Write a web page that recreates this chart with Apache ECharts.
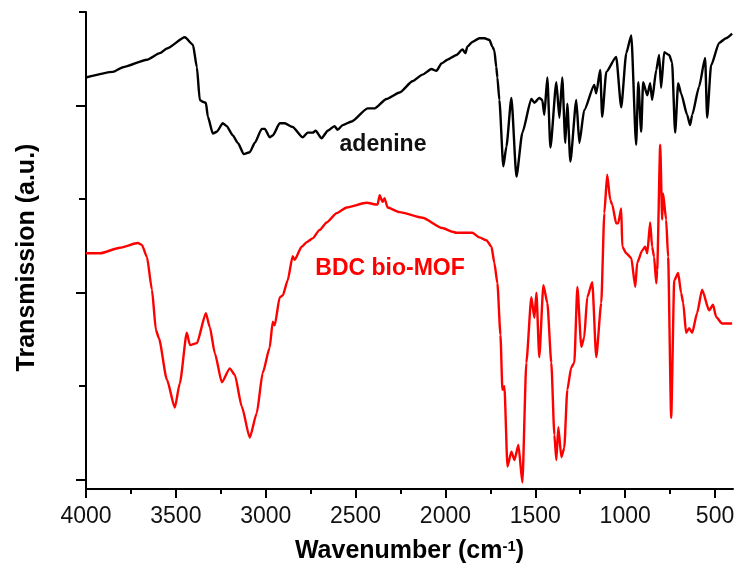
<!DOCTYPE html>
<html>
<head>
<meta charset="utf-8">
<script src="https://cdn.jsdelivr.net/npm/echarts@6/dist/echarts.min.js"></script>
<style>
  html, body { margin: 0; padding: 0; background: #fff; }
  #chart { width: 738px; height: 575px; }
</style>
</head>
<body>
<div id="chart"></div>
<script>
// axis ticks (y is arbitrary units, no labels)
const xMajorTicks = [4000, 3500, 3000, 2500, 2000, 1500, 1000, 500]
const xMinorTicks = [3750, 3250, 2750, 2250, 1750, 1250, 750]
const yMajorTicks = [10, 210, 410]
const yMinorTicks = [110, 310, 510]

// adenine spectrum
const adenineWn = [4000, 3850, 3794, 3661, 3589, 3550, 3450, 3405, 3383, 3367, 3350, 3333,
  3322, 3294, 3272, 3239, 3217, 3183, 3155, 3122, 3089, 3061,
  3022, 3005, 2978, 2961, 2922, 2894, 2850, 2794, 2767, 2739,
  2722, 2689, 2655, 2617, 2600, 2572, 2522, 2433, 2394, 2328,
  2255, 2183, 2128, 2078, 2050, 2022, 1989, 1939, 1905, 1889,
  1878, 1850, 1811, 1783, 1755, 1739, 1728, 1717, 1711, 1700,
  1678, 1661, 1633, 1605, 1572, 1522, 1505, 1478, 1461, 1450,
  1433, 1416, 1383, 1366, 1350, 1333, 1322, 1305, 1272, 1255,
  1228, 1172, 1161, 1139, 1128, 1105, 1050, 1022, 994, 966,
  939, 927, 911, 900, 877, 861, 850, 827, 811, 800,
  783, 755, 739, 722, 705, 689, 655, 639, 627, 589,
  555, 544, 522, 477, 439, 405]
const adenineT = [440, 446, 451, 459, 466, 471, 483, 475, 451, 416, 414, 413,
  398, 380, 382, 391, 388, 378, 370, 358, 360, 370,
  385, 385, 376, 378, 391, 391, 387, 376, 381, 381,
  383, 375, 383, 388, 384, 389, 393, 407, 407, 417,
  424, 436, 443, 449, 447, 455, 459, 464, 470, 466,
  473, 478, 482, 482, 480, 473, 469, 451, 440, 416,
  345, 366, 418, 334, 381, 417, 413, 418, 416, 400,
  440, 365, 435, 397, 440, 370, 412, 350, 416, 370,
  405, 432, 423, 448, 398, 446, 462, 408, 466, 485,
  368, 435, 382, 435, 421, 434, 416, 448, 464, 429,
  467, 464, 456, 381, 434, 423, 400, 389, 400, 430,
  461, 397, 453, 477, 482, 487]

// BDC bio-MOF spectrum
const mofWn = [4000, 3922, 3811, 3711, 3689, 3661, 3633, 3611, 3594, 3550,
  3506, 3478, 3439, 3422, 3383, 3333, 3311, 3283, 3244, 3200,
  3172, 3133, 3089, 3050, 3017, 2978, 2961, 2950, 2922, 2905,
  2878, 2850, 2839, 2800, 2772, 2739, 2700, 2661, 2605, 2550,
  2439, 2378, 2366, 2350, 2339, 2322, 2255, 2128, 2017, 1961,
  1939, 1850, 1811, 1772, 1744, 1728, 1711, 1694, 1683, 1672,
  1655, 1633, 1616, 1594, 1572, 1550, 1522, 1505, 1494, 1478,
  1455, 1433, 1411, 1394, 1383, 1372, 1355, 1339, 1322, 1300,
  1283, 1266, 1244, 1228, 1211, 1183, 1161, 1133, 1116, 1100,
  1083, 1072, 1050, 1039, 1022, 1016, 994, 966, 944, 933,
  905, 889, 877, 861, 850, 839, 827, 822, 805, 794,
  789, 772, 761, 744, 727, 705, 689, 677, 661, 644,
  627, 600, 572, 533, 511, 494, 461, 405]
const mofT = [252, 252, 258, 263, 261, 248, 213, 170, 161, 117,
  87, 113, 167, 154, 156, 188, 173, 145, 114, 129,
  122, 88, 55, 81, 124, 151, 179, 175, 205, 207,
  223, 249, 245, 259, 264, 268, 277, 285, 295, 301,
  306, 304, 314, 307, 311, 301, 296, 290, 279, 275,
  274, 274, 269, 266, 259, 242, 220, 165, 106, 110,
  24, 40, 31, 47, 7, 135, 205, 183, 210, 141,
  218, 199, 135, 58, 31, 66, 34, 44, 106, 130,
  135, 216, 152, 162, 205, 221, 141, 199, 295, 336,
  309, 304, 284, 284, 300, 259, 252, 247, 216, 242,
  255, 259, 252, 285, 259, 248, 220, 234, 368, 288,
  316, 288, 248, 76, 223, 231, 210, 199, 167, 172,
  167, 188, 213, 191, 197, 184, 177, 177]

const FONT = "'Liberation Sans', Arial, sans-serif"

function toPairs (wn, t) {
  return wn.map((w, i) => [w, t[i]])
}

const chart = echarts.init(document.getElementById('chart'))
chart.setOption({
  animation: false,
  backgroundColor: '#fff',
  grid: { left: 86, right: 5, top: 12, bottom: 86 },
  xAxis: [{
    type: 'value',
    inverse: true,
    min: 400,
    max: 4000,
    name: 'Wavenumber (cm{sup|-1})',
    nameLocation: 'middle',
    nameGap: 50,
    nameTextStyle: {
      fontFamily: FONT,
      fontWeight: 'bold',
      fontSize: 25,
      color: '#000',
      rich: {
        sup: { fontFamily: FONT, fontWeight: 'bold', fontSize: 15, color: '#000', verticalAlign: 'top', lineHeight: 12 }
      }
    },
    axisLine: { show: true, onZero: false, lineStyle: { color: '#000', width: 2 } },
    axisTick: { show: true, customValues: xMajorTicks, length: 9, lineStyle: { color: '#000', width: 2 } },
    axisLabel: {
      customValues: xMajorTicks,
      formatter: (v) => String(v),
      fontFamily: FONT,
      fontSize: 23,
      color: '#111',
      margin: 16
    },
    splitLine: { show: false }
  }, {
    type: 'value',
    inverse: true,
    min: 400,
    max: 4000,
    position: 'bottom',
    axisLine: { show: false },
    axisTick: { show: true, customValues: xMinorTicks, length: 5, lineStyle: { color: '#000', width: 2 } },
    axisLabel: { show: false },
    splitLine: { show: false }
  }],
  yAxis: [{
    type: 'value',
    min: 0,
    max: 510,
    name: 'Transmission (a.u.)',
    nameLocation: 'middle',
    nameGap: 46,
    nameTextStyle: { fontFamily: FONT, fontWeight: 'bold', fontSize: 25, color: '#000', padding: [0, 14, 0, 0] },
    axisLine: { show: true, onZero: false, lineStyle: { color: '#000', width: 2 } },
    axisTick: { show: true, customValues: yMajorTicks, length: 10, lineStyle: { color: '#000', width: 2 } },
    axisLabel: { show: false },
    splitLine: { show: false }
  }, {
    type: 'value',
    min: 0,
    max: 510,
    position: 'left',
    axisLine: { show: false },
    axisTick: { show: true, customValues: yMinorTicks, length: 7, lineStyle: { color: '#000', width: 2 } },
    axisLabel: { show: false },
    splitLine: { show: false }
  }],
  graphic: [
    {
      type: 'text',
      x: 383,
      y: 145,
      style: { text: 'adenine', fill: '#111', font: 'bold 23px ' + FONT, align: 'center', verticalAlign: 'middle' }
    },
    {
      type: 'text',
      x: 390,
      y: 269,
      style: { text: 'BDC bio-MOF', fill: '#ff0000', font: 'bold 23px ' + FONT, align: 'center', verticalAlign: 'middle' }
    }
  ],
  series: [
    {
      name: 'adenine',
      type: 'line',
      xAxisIndex: 0,
      yAxisIndex: 0,
      showSymbol: false,
      smooth: 0.2,
      smoothMonotone: 'x',
      data: toPairs(adenineWn, adenineT),
      lineStyle: { color: '#000', width: 2.4 }
    },
    {
      name: 'BDC bio-MOF',
      type: 'line',
      xAxisIndex: 0,
      yAxisIndex: 0,
      showSymbol: false,
      smooth: 0.2,
      smoothMonotone: 'x',
      data: toPairs(mofWn, mofT),
      lineStyle: { color: '#ff0000', width: 2.4 }
    }
  ]
})
</script>
</body>
</html>
